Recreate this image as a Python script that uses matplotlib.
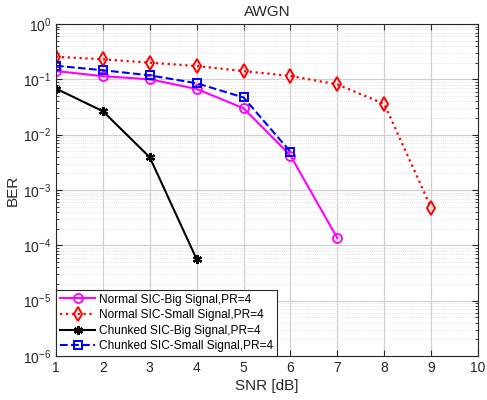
import numpy as np
import matplotlib.pyplot as plt

plt.rcParams['font.family'] = ['Liberation Sans', 'DejaVu Sans']

# data
snr_normal_big = [1, 2, 3, 4, 5, 6, 7]
ber_normal_big = [0.141, 0.114, 0.100, 0.067, 0.030, 0.0042, 1.35e-4]

snr_normal_small = [1, 2, 3, 4, 5, 6, 7, 8, 9]
ber_normal_small = [0.256, 0.23, 0.20, 0.174, 0.141, 0.115, 0.081, 0.036, 4.8e-4]

snr_chunk_big = [1, 2, 3, 4]
ber_chunk_big = [0.068, 0.0265, 0.0039, 5.6e-5]

snr_chunk_small = [1, 2, 3, 4, 5, 6]
ber_chunk_small = [0.176, 0.146, 0.118, 0.085, 0.047, 0.0049]

x_ticks = [1, 2, 3, 4, 5, 6, 7, 8, 9, 10]

fig = plt.figure(figsize=(4.87, 4.0), dpi=100)
ax = fig.add_axes([0.115, 0.11, 0.8665, 0.83])

ax.semilogy(snr_normal_big, ber_normal_big, '-', color='#FF00FF', lw=1.5,
            marker='o', ms=6.5, mfc='none', mew=1.3,
            label='Normal SIC-Big Signal,PR=4')
ax.semilogy(snr_normal_small, ber_normal_small, ':', color='#FF0000', lw=1.6,
            marker='d', ms=7.5, mfc='none', mew=1.4,
            label='Normal SIC-Small Signal,PR=4')
ax.semilogy(snr_chunk_big, ber_chunk_big, '-', color='black', lw=1.5,
            marker=(6, 2, 0), ms=6.5, mew=1.6,
            label='Chunked SIC-Big Signal,PR=4')
ax.semilogy(snr_chunk_small, ber_chunk_small, '--', color='#0000FF', lw=1.5,
            marker='s', ms=5.5, mfc='none', mew=1.4,
            label='Chunked SIC-Small Signal,PR=4')

ax.set_xlim(1, 10)
ax.set_ylim(1e-6, 1)
ax.set_xticks(x_ticks)
ax.set_xticklabels([str(t) for t in x_ticks])

# MATLAB-like grid
ax.grid(True, which='major', color='#d0d0d0', lw=0.9, ls='-')
ax.grid(True, which='minor', axis='y', color='#d8d8d8', lw=0.6, ls=':')
ax.set_axisbelow(True)

ax.tick_params(which='both', direction='in', top=True, right=True,
               labelsize=10, colors='#262626')
ax.tick_params(which='major', length=4)
ax.tick_params(which='minor', length=2)
for s in ax.spines.values():
    s.set_color('#262626')
    s.set_linewidth(0.8)

ax.set_xlabel('SNR [dB]', fontsize=11, color='#262626', labelpad=3)
ax.set_ylabel('BER', fontsize=11, color='#262626', labelpad=2)
ax.set_title('AWGN', fontsize=11, color='#262626', pad=6)

leg = ax.legend(loc='lower left', fontsize=8.6, frameon=True, fancybox=False,
                borderpad=0.3, labelspacing=0.3, handlelength=3.0,
                handletextpad=0.3, borderaxespad=0)
leg.get_frame().set_edgecolor('#262626')
leg.get_frame().set_linewidth(0.8)
leg.get_frame().set_alpha(1)

fig.savefig('out.png', dpi=100)
